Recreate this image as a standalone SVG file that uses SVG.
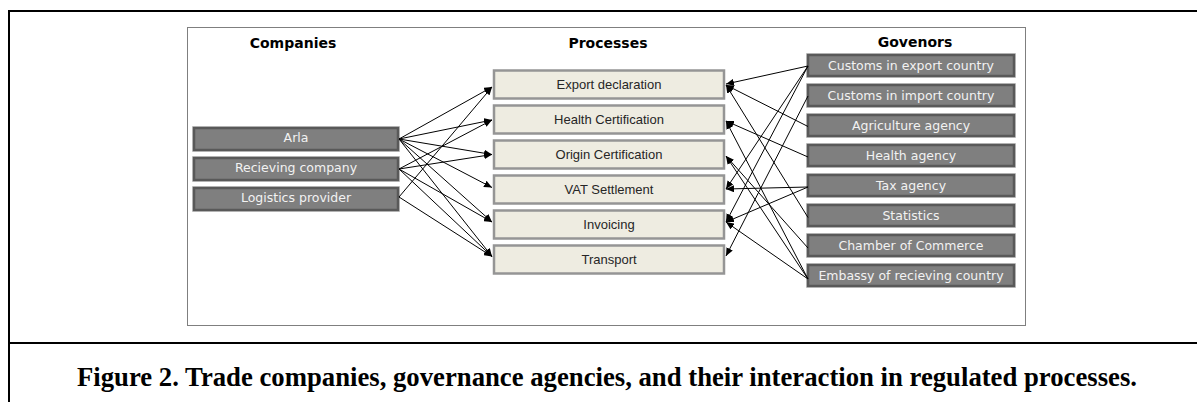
<svg xmlns="http://www.w3.org/2000/svg" width="1197" height="402" viewBox="0 0 1197 402">
<defs>
<marker id="ah" markerUnits="userSpaceOnUse" markerWidth="9" markerHeight="7" refX="8" refY="3.5" orient="auto">
<path d="M0,0 L8,3.5 L0,7 z" fill="#000"/>
</marker>
<style>
.frame{stroke:#000;stroke-width:2;fill:none}
.panel{fill:#fff;stroke:#7f7f7f;stroke-width:1}
.title{font-family:"DejaVu Sans",Verdana,sans-serif;font-weight:bold;font-size:14px;fill:#000;text-anchor:middle}
.dark rect.o{fill:none;stroke:#d0d0d0;stroke-width:1}
.dark rect.i{fill:#7f7f7f;stroke:#595959;stroke-width:2.5}
.dark text{font-family:"DejaVu Sans",Verdana,sans-serif;font-size:12.5px;fill:#f2f2f2;text-anchor:middle}
.proc rect{fill:#eeece1;stroke:#959595;stroke-width:2.5}
.proc text{font-family:"Liberation Sans",Arial,sans-serif;font-size:13px;fill:#262626;text-anchor:middle}
.conn line{stroke:#000;stroke-width:1;marker-end:url(#ah)}
.cap{font-family:"Liberation Serif","Times New Roman",serif;font-weight:bold;font-size:27px;fill:#000}
</style>
</defs>
<rect width="1197" height="402" fill="#fff"/>
<path class="frame" d="M1197,11 H9 V402 M9,343 H1197"/>
<rect class="panel" x="187.5" y="27.5" width="838" height="298"/>
<text class="title" x="293" y="48">Companies</text>
<text class="title" x="608" y="48">Processes</text>
<text class="title" x="915" y="47">Govenors</text>

<g id="company-arla" class="dark"><rect class="o" x="192.5" y="126.5" width="207" height="25"/><rect class="i" x="194" y="128" width="204" height="22"/><text x="296" y="141.5">Arla</text></g>
<g id="company-recieving" class="dark"><rect class="o" x="192.5" y="156.5" width="207" height="25"/><rect class="i" x="194" y="158" width="204" height="22"/><text x="296" y="171.5">Recieving company</text></g>
<g id="company-logistics" class="dark"><rect class="o" x="192.5" y="186.5" width="207" height="25"/><rect class="i" x="194" y="188" width="204" height="22"/><text x="296" y="201.5">Logistics provider</text></g>

<g id="proc-export" class="proc"><rect x="494" y="70.5" width="230" height="28"/><text x="609" y="89">Export declaration</text></g>
<g id="proc-health" class="proc"><rect x="494" y="105.5" width="230" height="28"/><text x="609" y="124">Health Certification</text></g>
<g id="proc-origin" class="proc"><rect x="494" y="140.5" width="230" height="28"/><text x="609" y="159">Origin Certification</text></g>
<g id="proc-vat" class="proc"><rect x="494" y="175.5" width="230" height="28"/><text x="609" y="194">VAT Settlement</text></g>
<g id="proc-invoicing" class="proc"><rect x="494" y="210.5" width="230" height="28"/><text x="609" y="229">Invoicing</text></g>
<g id="proc-transport" class="proc"><rect x="494" y="245.5" width="230" height="28"/><text x="609" y="264">Transport</text></g>

<g id="gov-customs-export" class="dark"><rect class="o" x="806.5" y="53.5" width="209" height="24"/><rect class="i" x="808" y="55" width="206" height="21"/><text x="911" y="69.5">Customs in export country</text></g>
<g id="gov-customs-import" class="dark"><rect class="o" x="806.5" y="83.5" width="209" height="24"/><rect class="i" x="808" y="85" width="206" height="21"/><text x="911" y="99.5">Customs in import country</text></g>
<g id="gov-agriculture" class="dark"><rect class="o" x="806.5" y="113.5" width="209" height="24"/><rect class="i" x="808" y="115" width="206" height="21"/><text x="911" y="129.5">Agriculture agency</text></g>
<g id="gov-health" class="dark"><rect class="o" x="806.5" y="143.5" width="209" height="24"/><rect class="i" x="808" y="145" width="206" height="21"/><text x="911" y="159.5">Health agency</text></g>
<g id="gov-tax" class="dark"><rect class="o" x="806.5" y="173.5" width="209" height="24"/><rect class="i" x="808" y="175" width="206" height="21"/><text x="911" y="189.5">Tax agency</text></g>
<g id="gov-statistics" class="dark"><rect class="o" x="806.5" y="203.5" width="209" height="24"/><rect class="i" x="808" y="205" width="206" height="21"/><text x="911" y="219.5">Statistics</text></g>
<g id="gov-chamber" class="dark"><rect class="o" x="806.5" y="233.5" width="209" height="24"/><rect class="i" x="808" y="235" width="206" height="21"/><text x="911" y="249.5">Chamber of Commerce</text></g>
<g id="gov-embassy" class="dark"><rect class="o" x="806.5" y="263.5" width="209" height="24"/><rect class="i" x="808" y="265" width="206" height="21"/><text x="911" y="279.5">Embassy of recieving country</text></g>

<g id="connectors" class="conn">
<line x1="399" y1="139" x2="492" y2="87"/>
<line x1="399" y1="139" x2="492" y2="120"/>
<line x1="399" y1="139" x2="492" y2="154.5"/>
<line x1="399" y1="139" x2="492" y2="187.5"/>
<line x1="399" y1="139" x2="492" y2="222"/>
<line x1="399" y1="139" x2="492" y2="256.5"/>
<line x1="399" y1="169" x2="492" y2="120"/>
<line x1="399" y1="169" x2="492" y2="154.5"/>
<line x1="399" y1="169" x2="492" y2="222"/>
<line x1="399" y1="169" x2="492" y2="256.5"/>
<line x1="399" y1="197" x2="492" y2="87"/>
<line x1="399" y1="197" x2="492" y2="256.5"/>

<line x1="808" y1="66" x2="726" y2="84"/>
<line x1="808" y1="66" x2="726" y2="189"/>
<line x1="808" y1="66" x2="726" y2="222"/>
<line x1="808" y1="96" x2="726" y2="256"/>
<line x1="808" y1="126.5" x2="726" y2="85"/>
<line x1="808" y1="157" x2="726" y2="121"/>
<line x1="808" y1="187" x2="726" y2="189"/>
<line x1="808" y1="187" x2="726" y2="222"/>
<line x1="808" y1="217.5" x2="726" y2="85"/>
<line x1="808" y1="248" x2="726" y2="156"/>
<line x1="808" y1="279" x2="726" y2="121"/>
<line x1="808" y1="279" x2="726" y2="156"/>
<line x1="808" y1="279" x2="726" y2="222"/>
</g>

<text class="cap" x="77" y="386" textLength="1060" lengthAdjust="spacingAndGlyphs">Figure 2. Trade companies, governance agencies, and their interaction in regulated processes.</text>
</svg>
